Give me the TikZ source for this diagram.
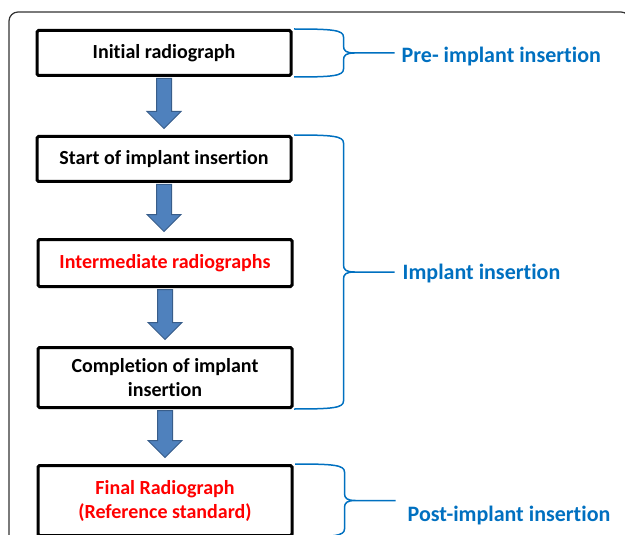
\documentclass[tikz,border=0pt]{standalone}
\usepackage{fontspec}
\setmainfont{Carlito}[Ligatures={NoCommon,NoContextual},Contextuals=NoAlternate]
\usetikzlibrary{calc}
\definecolor{bracecol}{RGB}{0,112,192}
\definecolor{arrowfill}{RGB}{79,129,189}
\definecolor{arrowedge}{RGB}{56,93,138}
\tikzset{
  stepbox/.style={draw, line width=3pt, rounded corners=1.5pt, minimum width=254pt,
    align=center, inner sep=0pt, font=\fontsize{20}{24}\selectfont\bfseries},
  phaselabel/.style={text=bracecol, anchor=base west, inner sep=0pt,
    font=\fontsize{22}{26}\selectfont\bfseries},
  bracepath/.style={draw=bracecol, line width=1.5pt},
  blockarrow/.style={fill=arrowfill, draw=arrowedge, line width=1pt}
}
% fat arrow from the bottom of one box to just above the next
\newcommand{\blockarrow}[2]{%
  \path[blockarrow] let \p1=(#1.south), \p2=(#2.north) in
    (\x1-7.5pt,\y1-1.5pt) -- (\x1-7.5pt,\y2+23.5pt) -- (\x1-17pt,\y2+23.5pt)
    -- (\x1,\y2+6.5pt) -- (\x1+17pt,\y2+23.5pt) -- (\x1+7.5pt,\y2+23.5pt)
    -- (\x1+7.5pt,\y1-1.5pt) -- cycle;}
% curly bracket on the right of a group of boxes, tip named #3
\newcommand{\phasebrace}[3]{%
  \draw[bracepath] let \p1=(#1.north east), \p2=(#2.south east),
      \p3=($(#1.north east)!.5!(#2.south east)$) in
    (\x1+1.5pt,\y1) .. controls (\x1+40pt,\y1) and (\x1+51pt,\y1-1pt) .. (\x1+51pt,\y1-8pt)
    -- (\x1+51pt,\y3+7pt) .. controls (\x1+51pt,\y3+2pt) and (\x1+54pt,\y3) .. (\x1+62pt,\y3)
    -- (\x1+102pt,\y3) coordinate (#3)
    (\x1+62pt,\y3) .. controls (\x1+54pt,\y3) and (\x1+51pt,\y3-2pt) .. (\x1+51pt,\y3-7pt)
    -- (\x1+51pt,\y2+8pt) .. controls (\x1+51pt,\y2+1pt) and (\x1+40pt,\y2) .. (\x1+1.5pt,\y2);}
\begin{document}
\begin{tikzpicture}[x=1pt,y=-1pt]
\useasboundingbox (0,0) rectangle (625,535);
\draw [line width=1.2pt, black!80, rounded corners=9pt] (9,12) rectangle (630,560);
\node [stepbox, minimum height=45pt] (init) at (164,53) {Initial radiograph};
\node [stepbox, minimum height=45pt] (start) at (164,159) {Start of implant insertion};
\node [stepbox, minimum height=47pt, text=red] (inter) at (165,263) {Intermediate radiographs};
\node [stepbox, minimum height=60pt] (compl) at (165,377.5) {Completion of implant\\insertion};
\node [stepbox, minimum height=70pt, text=red] (final) at (165,500.5) {Final Radiograph\\(Reference standard)};
\foreach \a/\b in {init/start, start/inter, inter/compl, compl/final}
  \blockarrow{\a}{\b};
\phasebrace{init}{init}{tip1}
\phasebrace{start}{compl}{tip2}
\phasebrace{final}{final}{tip3}
\node [phaselabel] (pre) at ([xshift=7pt,yshift=-10pt]tip1) {Pre- implant insertion};
\node [phaselabel] (impl) at ([xshift=8pt,yshift=-7pt]tip2) {Implant insertion};
\node [phaselabel] (post) at ([xshift=12pt,yshift=-21pt]tip3) {Post-implant insertion};
\end{tikzpicture}
\end{document}
